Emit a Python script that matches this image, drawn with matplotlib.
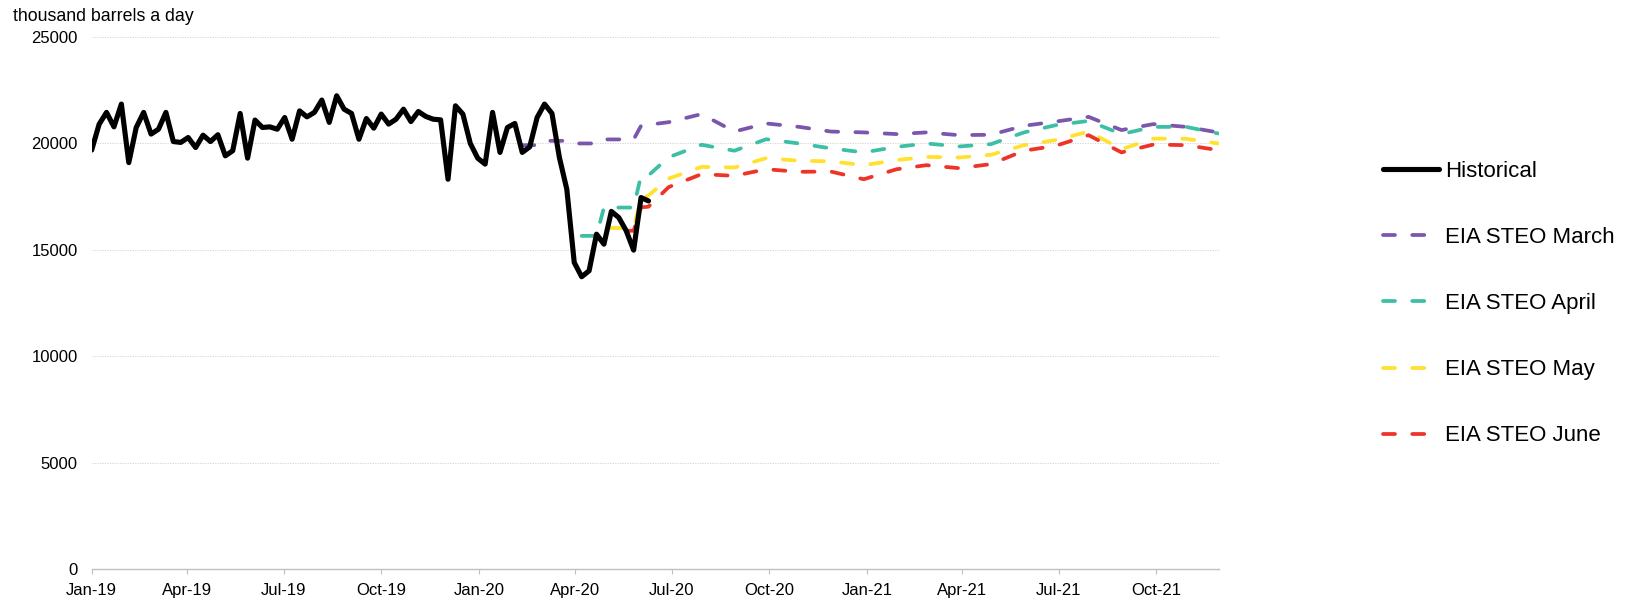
import matplotlib
matplotlib.use('Agg')
import matplotlib.pyplot as plt
import pandas as pd

plt.rcParams['font.family'] = ['Liberation Sans', 'DejaVu Sans']

# weekly historical, thousand barrels a day (weeks ending Fri, from 2019-01-04)
hist_values = [19690, 20900, 21460, 20780, 21850, 19100, 20750, 21460, 20440, 20670,
               21460, 20090, 20050, 20280, 19810, 20390, 20090, 20410, 19420, 19660,
               21410, 19310, 21100, 20750, 20780, 20670, 21220, 20200, 21530, 21250,
               21460, 22040, 20990, 22240, 21610, 21410, 20200, 21170, 20720, 21380,
               20910, 21140, 21610, 21030, 21500, 21270, 21140, 21110, 18320, 21770,
               21380, 20000, 19310, 19030, 21460, 19580, 20750, 20940, 19580, 19840,
               21220, 21850, 21410, 19340, 17850, 14410, 13740, 14020, 15740, 15270,
               16810, 16520, 15900, 14990, 17460, 17300]

# STEO forecasts: weekly part (starting at a given week index) then monthly Jul-20..Dec-21
march_start = 58
march_weekly = [19920, 19920, 19920, 20125, 20125, 20125, 20125, 20000, 20000, 20000,
                20000, 20190, 20190, 20190, 20190, 20190, 20830, 20880]
march_monthly = [21000, 21380, 20560, 20940, 20780, 20560, 20520, 20440, 20520, 20390,
                 20410, 20830, 21030, 21250, 20630, 20910, 20780, 20520]

april_start = 66
april_weekly = [15660, 15660, 15660, 16990, 16990, 16990, 16990, 16990, 18500, 18500]
april_monthly = [19350, 19940, 19660, 20200, 20000, 19770, 19580, 19840, 20000, 19860,
                 19970, 20520, 20860, 21060, 20440, 20780, 20780, 20470]

may_start = 70
may_weekly = [16030, 16030, 16030, 16030, 17430, 17560]
may_monthly = [18350, 18900, 18870, 19310, 19190, 19160, 18980, 19220, 19370, 19340,
               19470, 19920, 20160, 20560, 19730, 20230, 20220, 20000]

june_start = 72
june_weekly = [15900, 15900, 17000, 17030]
june_monthly = [17950, 18560, 18480, 18790, 18670, 18680, 18320, 18790, 18980, 18840,
                19030, 19660, 19890, 20390, 19580, 19950, 19920, 19690]

tick_labels = ['Jan-19', 'Apr-19', 'Jul-19', 'Oct-19', 'Jan-20', 'Apr-20', 'Jul-20',
               'Oct-20', 'Jan-21', 'Apr-21', 'Jul-21', 'Oct-21']

weeks = pd.date_range('2019-01-04', periods=len(hist_values), freq='7D')
months = pd.date_range('2020-07-01', '2021-12-01', freq='MS')

fig = plt.figure(figsize=(16.37, 5.99), dpi=100)
ax = fig.add_axes([0.056, 0.0496, 0.6887, 0.8886])

ax.plot(weeks, hist_values, color='black', lw=3.7, solid_joinstyle='round',
        solid_capstyle='round', label='Historical', zorder=5)

series = [
    ('EIA STEO March', '#7a56ad', march_start, march_weekly, march_monthly),
    ('EIA STEO April', '#3dbfa6', april_start, april_weekly, april_monthly),
    ('EIA STEO May', '#ffe12e', may_start, may_weekly, may_monthly),
    ('EIA STEO June', '#ee3428', june_start, june_weekly, june_monthly),
]
for name, col, start, wk, mo in series:
    x = list(weeks[start:start + len(wk)]) + list(months)
    y = wk + mo
    ax.plot(x, y, color=col, lw=2.7, dashes=(3.2, 4.6), dash_capstyle='round',
            dash_joinstyle='round', label=name, zorder=4)

ax.set_ylim(0, 25000)
ax.set_yticks([0, 5000, 10000, 15000, 20000, 25000])
ax.set_xlim(pd.Timestamp('2019-01-04'), pd.Timestamp('2021-12-02'))
ticks = [pd.Timestamp(2019 + i // 4, 1 + 3 * (i % 4), 4) for i in range(len(tick_labels))]
ax.set_xticks(ticks)
ax.set_xticklabels(tick_labels)

ax.grid(axis='y', color='#cfcfcf', lw=0.6, linestyle=(0, (1.5, 1.5)))
ax.set_axisbelow(True)
for s in ['top', 'right', 'left']:
    ax.spines[s].set_visible(False)
ax.spines['bottom'].set_color('#bfbfbf')
ax.spines['bottom'].set_linewidth(1.0)
ax.tick_params(axis='y', length=0, pad=10, labelsize=12)
ax.tick_params(axis='x', length=3.5, color='#bfbfbf', pad=6.5, labelsize=12)

fig.text(13 / 1637, 1 - 8 / 599, 'thousand barrels a day', fontsize=12.8, va='top', ha='left')

ax.legend(loc='upper left', bbox_to_anchor=(1383 / 1637, 1 - 161 / 599),
          bbox_transform=fig.transFigure, frameon=False, fontsize=16,
          handlelength=2.5, handletextpad=0.3, labelspacing=2.03,
          borderpad=0, borderaxespad=0)

fig.savefig('out.png', dpi=100)
